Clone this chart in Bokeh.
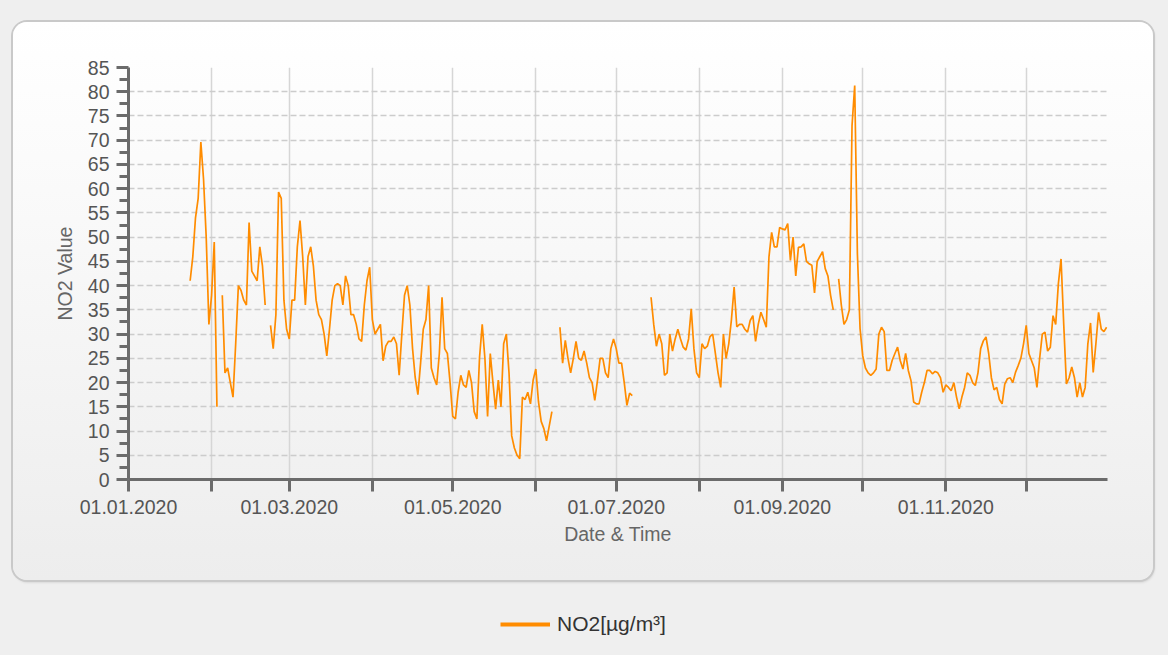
import numpy as np
import pandas as pd
from bokeh.plotting import figure
from bokeh.models import (FixedTicker, CustomJSTickFormatter, Range1d, Legend,
                          LegendItem, GlobalInlineStyleSheet, ColumnDataSource)
from bokeh.layouts import column
from bokeh.embed import file_html
from bokeh.resources import INLINE

N = None
# Daily NO2 values per month (None = no data)
no2_jan = [N] * 23 + [41, 46, 54, 58, 69.6, 62, 50, 32]
no2_feb = [38, 49, 15, N, 38, 22, 23, 20, 17, 28, 40, 39, 37, 36, 53, 43, 42, 41,
           48, 44, 36, N, 31.8, 27, 34, 59.3, 58, 37, 31]
no2_mar = [29, 37, 37, 48, 53.4, 46, 36, 46, 48, 44, 37, 34, 33, 30, 25.5, 31, 37,
           40, 40.4, 40, 36, 42, 40, 34, 34, 32, 29, 28.5, 36, 41, 43.8]
no2_apr = [33, 30, 31, 32, 24.5, 27.5, 28.5, 28.5, 29.4, 28, 21.5, 30, 38, 40, 36,
           27, 21, 17.5, 24, 31, 33, 40, 23, 21, 19.5, 26, 37.6, 27, 26, 20]
no2_may = [13, 12.5, 18, 21.5, 19.5, 19, 22.5, 20, 14, 12.5, 25.2, 32, 25, 13, 26,
           20, 14.5, 20.5, 15, 28, 30, 22, 9, 6.5, 5, 4.3, 17, 16.5, 18, 15.6, 20.5]
no2_jun = [22.8, 16, 12, 10.5, 8, 11, 14, N, N, 31.4, 24, 28.7, 25, 22, 25, 28.5,
           25, 24.6, 26.5, 24, 21, 20, 16.3, 20.4, 25, 25, 22, 21, 27, 29]
no2_jul = [27, 24, 24, 20, 15.3, 17.8, 17.3, N, N, N, N, N, N, 37.6, 32, 27.5, 30,
           28, 21.5, 22, 30, 26.5, 29, 31, 29, 27.3, 26.7, 29, 35.2, 27, 22]
no2_aug = [21, 28, 27, 27.5, 29.5, 30, 26, 22, 19, 30, 25, 28, 33, 39.7, 31.5, 32,
           32, 31, 30.4, 32.8, 33.8, 28.5, 32, 34.5, 33, 31.4, 45.9, 51, 48, 48, 52]
no2_sep = [51.7, 51.5, 52.8, 45.2, 50, 42, 47.9, 48, 48.6, 45, 44.5, 44.2, 38.5, 45,
           46, 47, 43.5, 42, 38, 35, N, 41.4, 36, 32, 33, 35, 73, 81.3, 46.6, 31.1]
no2_oct = [25.5, 23, 22, 21.5, 22, 22.8, 30, 31.4, 30.5, 22.5, 22.5, 24.6, 26, 27.3,
           24.5, 22.8, 26, 22.5, 20.4, 16, 15.6, 15.6, 18, 20, 22.5, 22.5, 21.8, 22.3,
           22, 21, 18]
no2_nov = [19.5, 19, 18.3, 20, 17, 14.6, 17, 19, 22, 21.5, 20, 19.4, 22, 27, 28.6,
           29.4, 26, 21, 18.5, 19, 16.5, 15.6, 19.7, 20.8, 21, 20, 22.1, 23.5, 25, 28]
no2_dec = [31.8, 26, 24.5, 23, 19, 24.9, 30, 30.4, 26.5, 27.3, 33.8, 32, 40.4, 45.5,
           32, 19.7, 21, 23.2, 21, 17, 20, 17, 19, 28, 32.3, 22.1, 28, 34.5, 31, 30.5,
           31.4]

monthly = [no2_jan, no2_feb, no2_mar, no2_apr, no2_may, no2_jun,
           no2_jul, no2_aug, no2_sep, no2_oct, no2_nov, no2_dec]

month_labels = ["01.01.2020", "", "01.03.2020", "", "01.05.2020", "",
                "01.07.2020", "", "01.09.2020", "", "01.11.2020", ""]
y_ticks = [0, 5, 10, 15, 20, 25, 30, 35, 40, 45, 50, 55, 60, 65, 70, 75, 80, 85]
series_name = "NO2[µg/m³]"

dates, vals = [], []
for m, arr in enumerate(monthly, start=1):
    dates += list(pd.date_range(pd.Timestamp(2020, m, 1), periods=len(arr), freq="D"))
    vals += [np.nan if v is None else float(v) for v in arr]
src = ColumnDataSource(dict(x=np.array(dates, dtype="datetime64[ns]"), y=np.array(vals)))

month_ms = [float(pd.Timestamp(2020, m, 1).value // 10**6) for m in range(1, 13)]

ORANGE = "#ff8c00"
FONT = "Liberation Sans"

p = figure(width=1140, height=558, x_axis_type="datetime", toolbar_location=None,
           output_backend="svg",
           x_range=Range1d(pd.Timestamp("2020-01-01"), pd.Timestamp("2020-12-31 08:00")),
           y_range=Range1d(0, 85),
           min_border_left=115, min_border_right=46, min_border_top=45, min_border_bottom=101)
p.margin = (22, 0, 0, 13)
p.styles = {"border-radius": "14px",
            "background": "linear-gradient(#ffffff 0%, #fafafa 30%, #ededed 100%)",
            "box-shadow": "0 0 0 2px #c9c9c9, 1px 2px 3px rgba(0,0,0,0.18)"}
p.border_fill_alpha = 0
p.background_fill_alpha = 0
p.outline_line_color = None

p.line("x", "y", source=src, line_color=ORANGE, line_width=1.7)

p.xaxis.ticker = FixedTicker(ticks=month_ms, minor_ticks=[])
p.xaxis.formatter = CustomJSTickFormatter(
    args=dict(mticks=month_ms, mlabels=month_labels),
    code="""
    for (let i = 0; i < mticks.length; i++) {
        if (Math.abs(mticks[i] - tick) < 1000) return mlabels[i];
    }
    return '';
    """)
p.yaxis.ticker = FixedTicker(ticks=y_ticks, minor_ticks=[t + 2.5 for t in y_ticks[:-1]])

for ax in (p.xaxis[0], p.yaxis[0]):
    ax.axis_line_color = "#6b6b6b"
    ax.axis_line_width = 3
    ax.major_tick_line_color = "#6b6b6b"
    ax.major_tick_line_width = 3
    ax.minor_tick_line_color = "#6b6b6b"
    ax.minor_tick_line_width = 3
    ax.major_tick_in = 0
    ax.minor_tick_in = 0
    ax.major_label_text_font = FONT
    ax.major_label_text_font_size = "19.5px"
    ax.major_label_text_color = "#555555"
    ax.axis_label_text_font = FONT
    ax.axis_label_text_font_size = "19.5px"
    ax.axis_label_text_font_style = "normal"
    ax.axis_label_text_color = "#666666"

p.xaxis.major_tick_out = 12
p.xaxis.minor_tick_out = 0
p.xaxis.major_label_standoff = 8
p.xaxis.axis_label = "Date & Time"
p.xaxis.axis_label_standoff = 6

p.yaxis.major_tick_out = 12
p.yaxis.minor_tick_out = 9
p.yaxis.major_label_standoff = 7
p.yaxis.axis_label = "NO2 Value"
p.yaxis.axis_label_standoff = 9

p.xgrid.grid_line_color = "#d6d6d6"
p.xgrid.grid_line_width = 1.5
p.ygrid.grid_line_color = "#cccccc"
p.ygrid.grid_line_width = 1.5
p.ygrid.grid_line_dash = "6 3"

lg = figure(width=1152, height=59, toolbar_location=None, output_backend="svg",
            min_border=0, x_axis_location=None, y_axis_location=None,
            x_range=(0, 1), y_range=(0, 1))
lg.outline_line_color = None
lg.grid.visible = False
lg.border_fill_alpha = 0
lg.background_fill_alpha = 0
r = lg.line(x=[np.nan], y=[np.nan], line_color=ORANGE, line_width=4)
legend = Legend(items=[LegendItem(label=series_name, renderers=[r], index=0)],
                location=(385, 3), glyph_width=50, glyph_height=22, label_standoff=7,
                padding=0, margin=0, border_line_color=None, background_fill_alpha=0,
                label_text_font=FONT, label_text_font_size="21px",
                label_text_color="#333333")
lg.add_layout(legend)

page = column(p, lg, spacing=0)
page.stylesheets = [GlobalInlineStyleSheet(css="body { background-color: #efefef; }")]

open("out.html", "w").write(file_html(page, INLINE))
